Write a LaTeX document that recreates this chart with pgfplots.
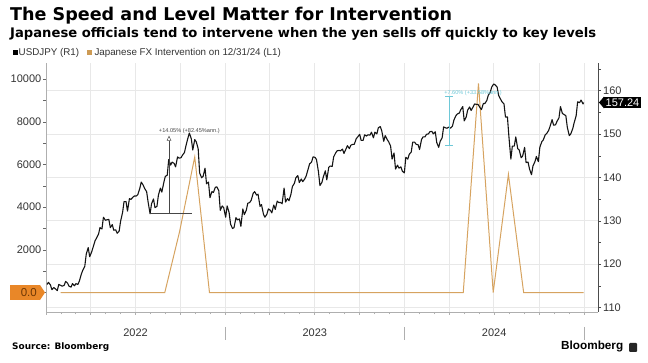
\documentclass[border=0pt]{standalone}
\usepackage{graphicx}
\usepackage{fontspec}
\setmainfont{Liberation Sans}
\newfontfamily\dejavu{DejaVu Sans}
\usepackage{pgfplots}
\usepackage{pgfplotstable}
\pgfplotsset{compat=1.18}
\usetikzlibrary{arrows.meta}
\definecolor{orangeline}{RGB}{214,163,96}
\definecolor{legorange}{RGB}{205,155,85}
\definecolor{boxorange}{RGB}{233,135,40}
\definecolor{boxtext}{RGB}{110,55,5}
\definecolor{gridgray}{RGB}{232,232,232}
\definecolor{axisgray}{RGB}{175,175,175}
\definecolor{tickgray}{RGB}{51,51,51}
\definecolor{cyanann}{RGB}{110,200,215}
\definecolor{annblack}{RGB}{70,70,70}

% USDJPY daily closes (x = days since 2022-01-01)
\pgfplotstableread{
day usdjpy
2 115.3
5 115.8
9 115.2
12 114.1
16 114.6
19 114.3
23 113.9
26 115.3
30 115.1
33 114.9
37 115.1
40 116.0
44 115.6
47 114.9
51 114.7
54 115.5
58 115.0
61 115.5
65 115.3
68 116.1
72 117.7
75 118.6
79 119.5
82 122.3
86 123.8
89 121.7
93 122.8
96 123.9
100 125.4
103 126.0
107 126.9
110 128.4
114 128.1
117 130.8
121 130.1
124 130.2
128 130.3
131 128.4
135 129.1
138 127.8
142 127.9
145 127.1
149 127.6
152 129.9
156 131.9
159 134.4
163 134.4
166 132.2
170 135.1
173 134.9
177 135.4
180 135.7
184 135.7
187 136.0
191 137.4
194 138.9
198 138.2
201 137.4
205 136.7
208 134.3
212 131.6
215 133.9
219 135.0
222 133.0
226 133.3
229 135.9
233 137.5
236 136.6
240 138.8
243 140.2
247 140.5
250 144.1
254 142.8
257 143.5
261 143.2
264 142.4
268 144.7
271 144.4
275 144.5
278 145.1
282 145.7
285 147.2
289 149.0
292 150.2
296 148.9
299 146.3
303 148.7
306 148.2
310 146.6
313 141.0
317 139.9
320 140.2
324 142.1
327 138.5
331 138.9
334 135.3
338 136.7
341 136.5
345 137.7
348 137.8
352 136.9
355 132.4
359 133.4
362 133.0
366 130.8
369 133.4
373 131.9
376 129.2
380 128.2
383 128.4
387 130.7
390 130.2
394 130.4
397 128.7
401 132.7
404 131.4
408 132.4
411 134.0
415 134.2
418 134.7
422 136.3
425 136.7
429 135.9
432 136.1
436 133.3
439 133.7
443 131.5
446 130.8
450 131.5
453 132.7
457 132.4
460 131.8
464 133.6
467 132.6
471 134.5
474 134.2
478 134.2
481 133.9
485 137.5
488 134.3
492 135.1
495 134.6
499 136.1
502 137.9
506 138.6
509 139.9
513 140.4
516 138.8
520 139.6
523 139.0
527 139.6
530 140.3
534 141.9
537 143.1
541 143.5
544 144.7
548 144.6
551 144.1
555 141.3
558 138.1
562 138.8
565 140.1
569 141.5
572 139.4
576 142.3
579 142.6
583 142.5
586 144.7
590 145.6
593 146.1
597 146.2
600 146.1
604 146.5
607 145.5
611 146.5
614 147.3
618 146.6
621 147.4
625 147.6
628 147.6
632 148.9
635 149.3
639 149.9
642 148.5
646 148.5
649 149.8
653 149.5
656 149.8
660 149.7
663 150.4
667 149.1
670 150.4
674 150.0
677 151.4
681 151.7
684 150.7
688 148.3
691 149.6
695 148.7
698 148.2
702 147.2
705 144.2
709 145.6
712 141.9
716 142.8
719 142.1
723 142.4
726 141.4
730 141.0
733 144.6
737 144.2
740 145.3
744 145.8
747 148.1
751 148.1
754 147.6
758 147.5
761 146.4
765 148.7
768 149.3
772 149.3
775 149.9
779 150.0
782 150.5
786 150.6
789 150.0
793 150.5
796 148.0
800 146.9
803 148.3
807 149.1
810 151.6
814 151.4
817 151.3
821 151.6
824 151.3
828 151.8
831 153.2
835 154.2
838 154.6
842 154.8
845 155.6
849 156.3
852 153.0
856 153.9
859 155.5
863 156.2
866 155.4
870 156.2
873 156.9
877 156.8
880 156.8
884 156.1
887 155.6
891 157.0
894 157.0
898 157.7
901 158.9
905 159.6
908 160.8
912 161.5
915 161.3
919 160.8
922 158.9
926 158.0
929 157.4
933 156.9
936 153.9
940 153.9
943 149.4
947 144.2
950 147.2
954 147.2
957 149.3
961 146.6
964 146.3
968 144.5
971 144.9
975 146.9
978 143.4
982 143.5
985 141.9
989 140.6
992 142.6
996 143.6
999 144.8
1003 143.6
1006 146.9
1010 148.2
1013 148.6
1017 149.8
1020 150.1
1024 150.8
1027 151.8
1031 153.3
1034 152.0
1038 152.1
1041 152.9
1045 153.7
1048 156.3
1052 154.7
1055 154.5
1059 154.2
1062 151.5
1066 149.6
1069 150.0
1073 151.2
1076 152.6
1080 154.2
1083 157.4
1087 157.2
1090 157.8
1094 156.9
1095 157.24
}\usdjpy

% Japanese FX intervention, monthly (billion yen), at month ends
\pgfplotstableread{
day bn
30 0
58 0
89 0
119 0
150 0
180 0
211 0
242 0
272 2838.2
303 6349.9
333 0
364 0
395 0
423 0
454 0
484 0
515 0
545 0
576 0
607 0
637 0
668 0
698 0
729 0
760 0
789 0
820 0
850 0
881 9788.5
911 0
942 5534.8
973 0
1003 0
1034 0
1064 0
1095 0
}\interv

\pgfplotsset{
  base/.style={at={(46pt,51pt)}, anchor=south west, width=552pt, height=249pt,
    scale only axis, xmin=0, xmax=1124.5, clip mode=individual,
    scaled ticks=false,
    /pgf/number format/assume math mode=true,
    tick label style={font=\fontsize{11}{13}\selectfont, text=tickgray}},
}

\begin{document}
\begin{tikzpicture}
\path[use as bounding box] (0,0) rectangle (648pt,363pt);

% Axis A: grid, x axis, right y axis
\begin{axis}[base, ymin=108.96, ymax=166.34,
  axis x line*=bottom, axis y line*=right,
  x axis line style={draw=axisgray, -}, y axis line style={draw=black!70, -},
  xtick={0,90,181,273,365,455,546,638,730,821,912,1004,1096},
  minor xtick={31,59,120,151,212,243,304,334,396,424,485,516,577,608,669,699,761,790,851,882,943,974,1035,1065},
  xticklabels={},
  xmajorgrids, ymajorgrids, grid style={gridgray, line width=0.6pt},
  ytick={110,120,130,140,150,160}, minor ytick={115,125,135,145,155,165},
  tick align=outside, major tick length=3pt, minor tick length=2.5pt,
  x tick style={draw=axisgray}, y tick style={draw=black!70},
  yticklabel style={inner sep=2pt},
]
\node[font=\fontsize{11}{13}\selectfont, text=tickgray] at ([yshift=-21pt]axis cs:182.5,108.96) {2022};
\node[font=\fontsize{11}{13}\selectfont, text=tickgray] at ([yshift=-21pt]axis cs:547.5,108.96) {2023};
\node[font=\fontsize{11}{13}\selectfont, text=tickgray] at ([yshift=-21pt]axis cs:913,108.96) {2024};
\draw[axisgray, line width=0.6pt] ([yshift=-15pt]axis cs:365,108.96) -- ([yshift=-28pt]axis cs:365,108.96);
\draw[axisgray, line width=0.6pt] ([yshift=-15pt]axis cs:730,108.96) -- ([yshift=-28pt]axis cs:730,108.96);
\draw[axisgray, line width=0.6pt] ([yshift=-15pt]axis cs:1096,108.96) -- ([yshift=-28pt]axis cs:1096,108.96);
\end{axis}

% Axis B: left axis, intervention
\begin{axis}[base, ymin=-913, ymax=10749,
  axis x line=none, axis y line*=left,
  y axis line style={draw=axisgray, -},
  ytick={2000,4000,6000,8000,10000}, minor ytick={1000,3000,5000,7000,9000},
  extra y ticks={0}, extra y tick labels={},
  yticklabel style={/pgf/number format/1000 sep={}, inner sep=1.5pt},
  tick align=outside, major tick length=3pt, minor tick length=2.5pt,
  y tick style={draw=black!60},
]
\addplot[orangeline, line width=1.0pt] table[x=day, y=bn] {\interv};
\node[fill=boxorange, text=boxtext, font=\fontsize{11.5}{13}\selectfont,
  text width=24pt, align=right, inner xsep=3pt, minimum height=13pt, anchor=east]
  (z) at ([xshift=-6pt]axis cs:0,0) {0.0};
\fill[boxorange] (z.north east) -- ([xshift=5pt]z.east) -- (z.south east) -- cycle;
\end{axis}

% Axis C: USDJPY line and annotations
\begin{axis}[base, ymin=108.96, ymax=166.34, hide axis]
\addplot[black!92, line width=1.1pt, line join=round] table[x=day, y=usdjpy] {\usdjpy};
% 2022 move annotation
\draw[annblack, line width=0.5pt] (axis cs:212,131.8) -- (axis cs:297,131.8);
\draw[annblack, line width=0.5pt, -{Triangle[open, length=5pt, width=4.5pt]}]
  (axis cs:250.6,131.8) -- (axis cs:250.6,149.6);
\node[anchor=base, font=\fontsize{5.6}{6}\selectfont, text=annblack, inner sep=0]
  at (axis cs:292,150.4) {+14.05\% (+82.45\%ann.)};
% 2024 move annotation
\draw[cyanann, line width=0.7pt] (axis cs:821,147.4) -- (axis cs:821,158.6);
\draw[cyanann, line width=0.7pt] (axis cs:813,147.4) -- (axis cs:829,147.4);
\draw[cyanann, line width=0.7pt] (axis cs:813,158.6) -- (axis cs:829,158.6);
\node[anchor=base, font=\fontsize{5.6}{6}\selectfont, text=cyanann, inner sep=0]
  at (axis cs:870,159.0) {+7.60\% (+33.58\%ann.)};
% last value label
\node[fill=black, text=white, font=\fontsize{11}{13}\selectfont, inner xsep=1.5pt,
  inner ysep=1.8pt, anchor=west] (lab) at ([xshift=6pt]axis cs:1124.5,157.24) {157.24};
\fill[black] (lab.north west) -- ([xshift=-5pt]lab.west) -- (lab.south west) -- cycle;
\end{axis}

% Titles
\node[anchor=base west, inner sep=0] at (10pt,342.3pt)
  {\resizebox{442pt}{!}{\fontsize{17.6}{20}\dejavu\bfseries The Speed and Level Matter for Intervention}};
\node[anchor=base west, inner sep=0] at (10pt,325.7pt)
  {\resizebox{586pt}{!}{\fontsize{12}{14}\dejavu\bfseries Japanese officials tend to intervene when the yen sells off quickly to key levels}};

% Legend
\fill[black] (13.3pt,308pt) rectangle (17.6pt,312.5pt);
\node[anchor=base west, inner sep=0, font=\fontsize{9.8}{11}\selectfont, text=tickgray] at (18.5pt,307pt) {USDJPY (R1)};
\fill[legorange] (87.3pt,308pt) rectangle (91.6pt,312.5pt);
\node[anchor=base west, inner sep=0, font=\fontsize{9.8}{11}\selectfont, text=tickgray] at (94.3pt,307pt) {Japanese FX Intervention on 12/31/24 (L1)};

% Footer
\node[anchor=base west, inner sep=0] at (12pt,13pt)
  {\resizebox{97pt}{!}{\fontsize{9}{11}\dejavu\bfseries Source: Bloomberg}};
\node[anchor=base west, inner sep=0] at (561pt,13pt)
  {\resizebox{62pt}{!}{\fontsize{12}{14}\selectfont\bfseries Bloomberg}};
\fill[black!85, rounded corners=1pt] (629pt,11pt) rectangle (637pt,20pt);
\end{tikzpicture}
\end{document}
